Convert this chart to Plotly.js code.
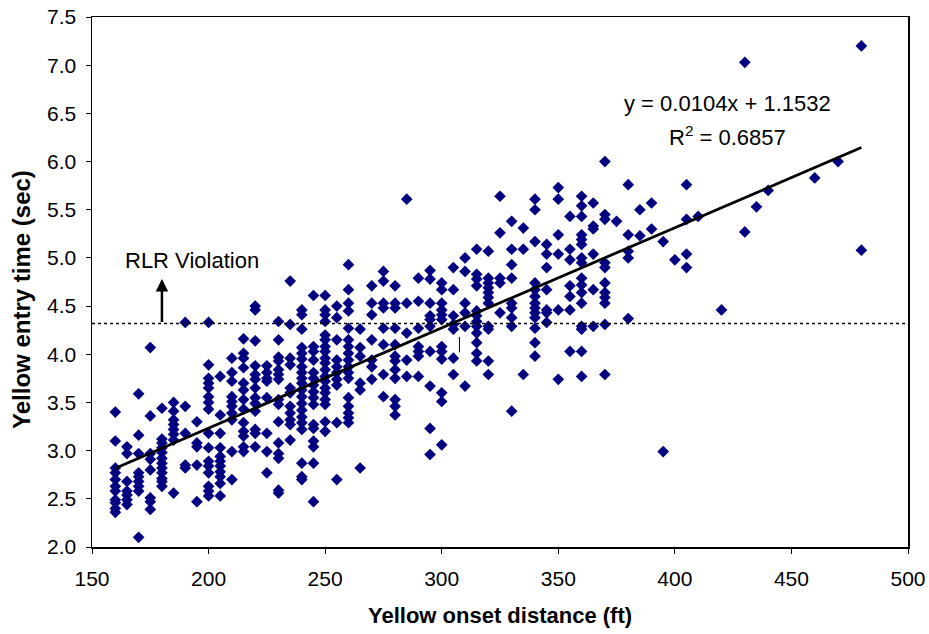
<!DOCTYPE html>
<html>
<head>
<meta charset="utf-8">
<script src="https://cdn.plot.ly/plotly-3.0.1.min.js"></script>
<style>html,body{margin:0;padding:0;background:#fff;}#chart{width:929px;height:634px;}</style>
</head>
<body>
<div id="chart"></div>
<script>
// Yellow onset distance (ft) columns and the yellow entry times (sec) observed in each
const columnDistances = [160,165,170,175,180,185,190,195,200,205,210,215,220,225,230,235,240,245,250,255,260,265,270,275,280,285,290,295,300,305,310,315,320,325,330,335,340,345,350,355,360,365,370,375,380,385,390,395,400,405,410,420,430,435,440,460,470,480];
const t160 = [3.40,3.10,2.82,2.77,2.70,2.63,2.58,2.49,2.46,2.40,2.36];
const t165 = [3.04,2.97,2.68,2.58,2.54,2.49,2.44];
const t170 = [3.59,3.16,2.97,2.77,2.73,2.68,2.63,2.58,2.10];
const t175 = [4.07,3.36,2.97,2.91,2.80,2.51,2.47,2.39];
const t180 = [3.44,3.12,3.08,3.03,2.98,2.92,2.87,2.82,2.77,2.71,2.68,2.63];
const t185 = [3.50,3.41,3.32,3.27,3.22,3.17,3.11,2.56];
const t190 = [4.33,3.46,3.18,2.85,2.82];
const t195 = [3.30,3.08,3.04,2.85,2.47];
const t200 = [4.33,3.89,3.75,3.70,3.65,3.56,3.50,3.43,3.18,3.03,2.89,2.84,2.77,2.63,2.58,2.53];
const t205 = [3.77,3.37,3.18,3.03,2.94,2.89,2.84,2.78,2.73,2.66,2.53];
const t210 = [3.96,3.81,3.72,3.56,3.51,3.46,3.39,3.32,2.99,2.70];
const t215 = [4.16,4.01,3.96,3.86,3.70,3.63,3.53,3.43,3.29,3.20,3.15,3.04,2.99];
const t220 = [4.50,4.46,4.14,3.88,3.79,3.74,3.65,3.55,3.49,3.41,3.22,3.18,3.04];
const t225 = [3.88,3.81,3.75,3.72,3.55,3.18,2.99,2.77];
const t230 = [4.34,4.15,3.97,3.93,3.84,3.79,3.74,3.53,3.48,3.30,3.08,2.97,2.92,2.59,2.56];
const t235 = [4.76,4.31,3.96,3.89,3.65,3.60,3.46,3.39,3.32,3.27,3.11];
const t240 = [4.46,4.41,4.26,4.07,4.01,3.95,3.87,3.81,3.75,3.70,3.63,3.56,3.49,3.42,3.35,3.29,3.22,2.87,2.73,2.70];
const t245 = [4.61,4.08,4.03,3.94,3.81,3.75,3.68,3.61,3.55,3.48,3.27,3.23,3.10,3.04,2.87,2.47];
const t250 = [4.61,4.46,4.41,4.34,4.20,4.15,4.08,4.03,3.96,3.91,3.84,3.77,3.72,3.65,3.60,3.53,3.48,3.30,3.20];
const t255 = [4.50,4.38,4.15,3.94,3.87,3.81,3.74,3.68,3.29,2.70];
const t260 = [4.93,4.67,4.53,4.45,4.27,4.15,4.08,4.01,3.94,3.87,3.81,3.75,3.55,3.46,3.39,3.34,3.29];
const t265 = [4.26,4.07,3.98,3.70,3.63,2.82];
const t270 = [4.71,4.53,4.41,4.15,3.94,3.87,3.74];
const t275 = [4.86,4.76,4.53,4.48,4.27,4.10,3.79,3.56];
const t280 = [4.71,4.53,4.48,4.27,4.10,3.98,3.93,3.84,3.75,3.53,3.46,3.37];
const t285 = [5.61,4.53,4.22,3.94,3.77];
const t290 = [4.79,4.55,4.27,4.08,4.03,3.98,3.77];
const t295 = [4.87,4.78,4.53,4.40,4.36,4.29,4.03,3.67,3.23,2.96];
const t300 = [4.74,4.67,4.53,4.46,4.41,4.36,4.08,4.03,3.95,3.60,3.51,3.06];
const t305 = [4.90,4.67,4.40,4.31,4.26,3.96,3.79];
const t310 = [5.00,4.86,4.53,4.43,4.29,3.67];
const t315 = [5.09,4.83,4.78,4.71,4.45,4.40,4.34,4.29,4.22,4.12,4.01,3.93];
const t320 = [5.07,4.79,4.74,4.69,4.64,4.59,4.53,4.29,4.26,3.93,3.79];
const t325 = [5.64,5.26,4.79,4.74,4.43];
const t330 = [5.38,5.09,4.93,4.79,4.53,4.48,4.38,4.29,3.41];
const t335 = [5.31,5.09,3.79];
const t340 = [5.61,5.50,5.17,4.74,4.67,4.60,4.53,4.48,4.43,4.38,4.27,4.12,3.98];
const t345 = [5.14,5.04,4.90,4.67,4.46,4.43,4.33];
const t350 = [5.73,5.61,5.24,5.04,4.46,3.74];
const t355 = [5.43,5.09,4.98,4.71,4.60,4.46,4.03];
const t360 = [5.64,5.54,5.43,5.24,5.19,5.14,5.00,4.95,4.79,4.72,4.64,4.53,4.29,4.26,4.03,3.77];
const t365 = [5.57,5.33,5.30,5.04,4.67,4.29];
const t370 = [6.00,5.45,5.40,4.95,4.90,4.74,4.64,4.59,4.53,4.31,3.79];
const t375 = [5.38];
const t380 = [5.76,5.24,5.07,5.00,4.37];
const t385 = [5.50,5.23];
const t390 = [5.57,5.30];
const t395 = [5.17,2.99];
const t400 = [4.98];
const t405 = [5.76,5.40,5.04,4.90];
const t410 = [5.43];
const t420 = [4.46];
const t430 = [7.03,5.27];
const t435 = [5.53];
const t440 = [5.70];
const t460 = [5.83];
const t470 = [6.00];
const t480 = [7.20,5.08];
const columnTimes = [t160,t165,t170,t175,t180,t185,t190,t195,t200,t205,t210,t215,t220,t225,t230,t235,t240,t245,t250,t255,t260,t265,t270,t275,t280,t285,t290,t295,t300,t305,t310,t315,t320,t325,t330,t335,t340,t345,t350,t355,t360,t365,t370,t375,t380,t385,t390,t395,t400,t405,t410,t420,t430,t435,t440,t460,t470,t480];

// Linear fit shown on the chart
const fitSlope = 0.0104;
const fitIntercept = 1.1532;
const fitRange = [160, 480];
const rlrThreshold = 4.32;

const xs = [], ys = [];
columnDistances.forEach((d, i) => {
  columnTimes[i].forEach(t => { xs.push(d); ys.push(t); });
});

const traces = [
  {
    x: xs, y: ys, type: 'scatter', mode: 'markers',
    marker: {symbol: 'diamond', size: 9, color: '#000080'},
    hoverinfo: 'x+y', showlegend: false
  },
  {
    x: fitRange, y: fitRange.map(v => fitSlope * v + fitIntercept),
    type: 'scatter', mode: 'lines',
    line: {color: '#000000', width: 2.8}, showlegend: false, hoverinfo: 'skip'
  }
];

const fontFam = 'Arial, "Liberation Sans", sans-serif';
const layout = {
  width: 929, height: 634,
  margin: {l: 92, r: 21, t: 17, b: 87},
  paper_bgcolor: '#ffffff', plot_bgcolor: '#ffffff',
  font: {family: fontFam, size: 21, color: '#000000'},
  showlegend: false,
  xaxis: {
    range: [150, 500], dtick: 50, tick0: 150,
    ticks: 'outside', ticklen: 5, tickcolor: '#000', tickwidth: 1,
    showline: true, linecolor: '#000', linewidth: 1.5, mirror: true,
    showgrid: false, zeroline: false,
    tickfont: {size: 21}, ticklabelstandoff: 7
  },
  yaxis: {
    range: [2, 7.5], dtick: 0.5, tick0: 2, tickformat: '.1f',
    ticks: 'outside', ticklen: 5, tickcolor: '#000', tickwidth: 1,
    showline: true, linecolor: '#000', linewidth: 1.5, mirror: true,
    showgrid: false, zeroline: false,
    tickfont: {size: 21}, ticklabelstandoff: 5
  },
  shapes: [
    {type: 'line', xref: 'x', yref: 'y', x0: 150, x1: 500, y0: rlrThreshold, y1: rlrThreshold,
     line: {color: '#000', width: 1.6, dash: 'dot'}},
    {type: 'line', xref: 'x', yref: 'y', x0: 307.6, x1: 307.6, y0: 4.02, y1: 4.18,
     line: {color: '#000', width: 1}}
  ],
  annotations: [
    {xref: 'paper', yref: 'paper', x: 0.5, y: -0.130, text: '<b>Yellow onset distance (ft)</b>',
     showarrow: false, font: {size: 22}, xanchor: 'center', yanchor: 'middle'},
    {xref: 'paper', yref: 'paper', x: -0.0858, y: 0.468, text: '<b>Yellow entry time (sec)</b>',
     showarrow: false, textangle: -90, font: {size: 24}, xanchor: 'center', yanchor: 'middle'},
    {xref: 'x', yref: 'y', x: 422.4, y: 6.6, text: 'y = 0.0104x + 1.1532', showarrow: false,
     font: {size: 22}, xanchor: 'center', yanchor: 'middle'},
    {xref: 'x', yref: 'y', x: 422.7, y: 6.27, text: 'R<sup>2</sup> = 0.6857', showarrow: false,
     font: {size: 22}, xanchor: 'center', yanchor: 'middle'},
    {xref: 'x', yref: 'y', x: 192.8, y: 4.975, text: 'RLR Violation', showarrow: false,
     font: {size: 22}, xanchor: 'center', yanchor: 'middle'},
    {xref: 'x', yref: 'y', axref: 'x', ayref: 'y', x: 180, y: 4.78, ax: 180, ay: rlrThreshold,
     text: '', showarrow: true, arrowhead: 2, arrowsize: 1, arrowwidth: 2.5, arrowcolor: '#000'}
  ]
};

Plotly.newPlot('chart', traces, layout, {displayModeBar: false, staticPlot: true});
</script>
</body>
</html>
